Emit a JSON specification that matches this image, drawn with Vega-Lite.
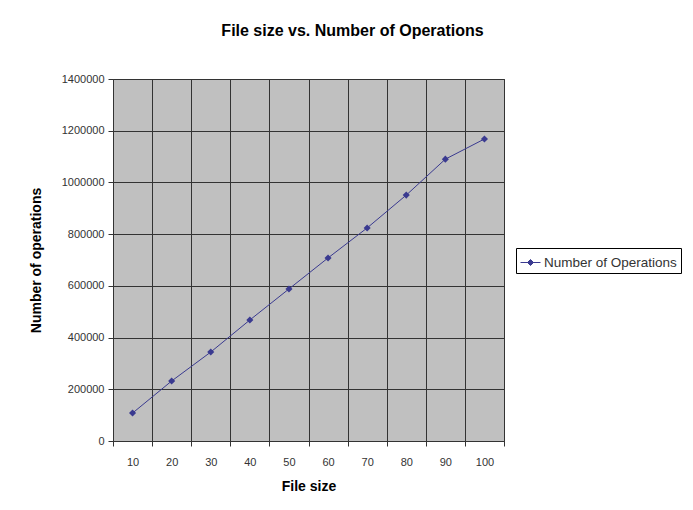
{
  "$schema": "https://vega.github.io/schema/vega-lite/v6.json",
  "autosize": {"type": "none"},
  "width": 391,
  "height": 362,
  "padding": {"left": 113, "top": 79, "right": 189, "bottom": 69},
  "background": "white",
  "title": {
    "text": "File size vs. Number of Operations",
    "font": "Liberation Sans",
    "fontSize": 16,
    "fontWeight": "bold",
    "color": "black",
    "anchor": "middle",
    "frame": "group",
    "dx": 44,
    "baseline": "alphabetic",
    "offset": 21
  },
  "config": {
    "view": {"fill": "#c0c0c0", "stroke": "#333333", "strokeWidth": 1},
    "axis": {
      "labelFont": "Liberation Sans",
      "titleFont": "Liberation Sans",
      "labelColor": "#333333",
      "titleColor": "black",
      "gridColor": "#333333",
      "gridOpacity": 1,
      "gridWidth": 1,
      "tickColor": "#333333",
      "domainColor": "#333333"
    }
  },
  "data": {
    "values": [
      {"size": 10, "ops": 108000, "series": "Number of Operations"},
      {"size": 20, "ops": 232000, "series": "Number of Operations"},
      {"size": 30, "ops": 344000, "series": "Number of Operations"},
      {"size": 40, "ops": 468000, "series": "Number of Operations"},
      {"size": 50, "ops": 588000, "series": "Number of Operations"},
      {"size": 60, "ops": 708000, "series": "Number of Operations"},
      {"size": 70, "ops": 824000, "series": "Number of Operations"},
      {"size": 80, "ops": 951000, "series": "Number of Operations"},
      {"size": 90, "ops": 1090000, "series": "Number of Operations"},
      {"size": 100, "ops": 1168000, "series": "Number of Operations"}
    ]
  },
  "mark": {
    "type": "line",
    "strokeWidth": 1,
    "point": {"shape": "diamond", "filled": true, "size": 50, "color": "#000070"}
  },
  "encoding": {
    "x": {
      "field": "size",
      "type": "ordinal",
      "sort": null,
      "scale": {"type": "band", "paddingInner": 0, "paddingOuter": 0},
      "axis": {
        "title": "File size",
        "titleFontSize": 14,
        "titleFontWeight": "bold",
        "titlePadding": 12,
        "labelAngle": 0,
        "labelFontSize": 11,
        "labelPadding": 10,
        "tickBand": "extent",
        "tickSize": 5,
        "grid": true,
        "domain": false
      }
    },
    "y": {
      "field": "ops",
      "type": "quantitative",
      "scale": {"domain": [0, 1400000], "nice": false},
      "axis": {
        "title": "Number of operations",
        "titleFontSize": 14,
        "titleFontWeight": "bold",
        "titlePadding": 18,
        "values": [0, 200000, 400000, 600000, 800000, 1000000, 1200000, 1400000],
        "format": "d",
        "labelFontSize": 11,
        "labelPadding": 4,
        "tickSize": 5,
        "grid": true,
        "domain": false
      }
    },
    "color": {
      "field": "series",
      "type": "nominal",
      "scale": {"range": ["#3a3a90"]},
      "legend": {
        "title": null,
        "orient": "none",
        "legendX": 403,
        "legendY": 169,
        "strokeColor": "black",
        "fillColor": "white",
        "padding": 4,
        "labelFont": "Liberation Sans",
        "labelFontSize": 13.5,
        "labelColor": "#333333",
        "labelOffset": 3,
        "symbolType": "M-1,0H1M-0.3,0L0,-0.3L0.3,0L0,0.3Z",
        "symbolSize": 400,
        "symbolStrokeWidth": 1,
        "encode": {
          "symbols": {"update": {"fill": {"value": "#000070"}, "stroke": {"value": "#3a3a90"}}}
        }
      }
    }
  }
}
